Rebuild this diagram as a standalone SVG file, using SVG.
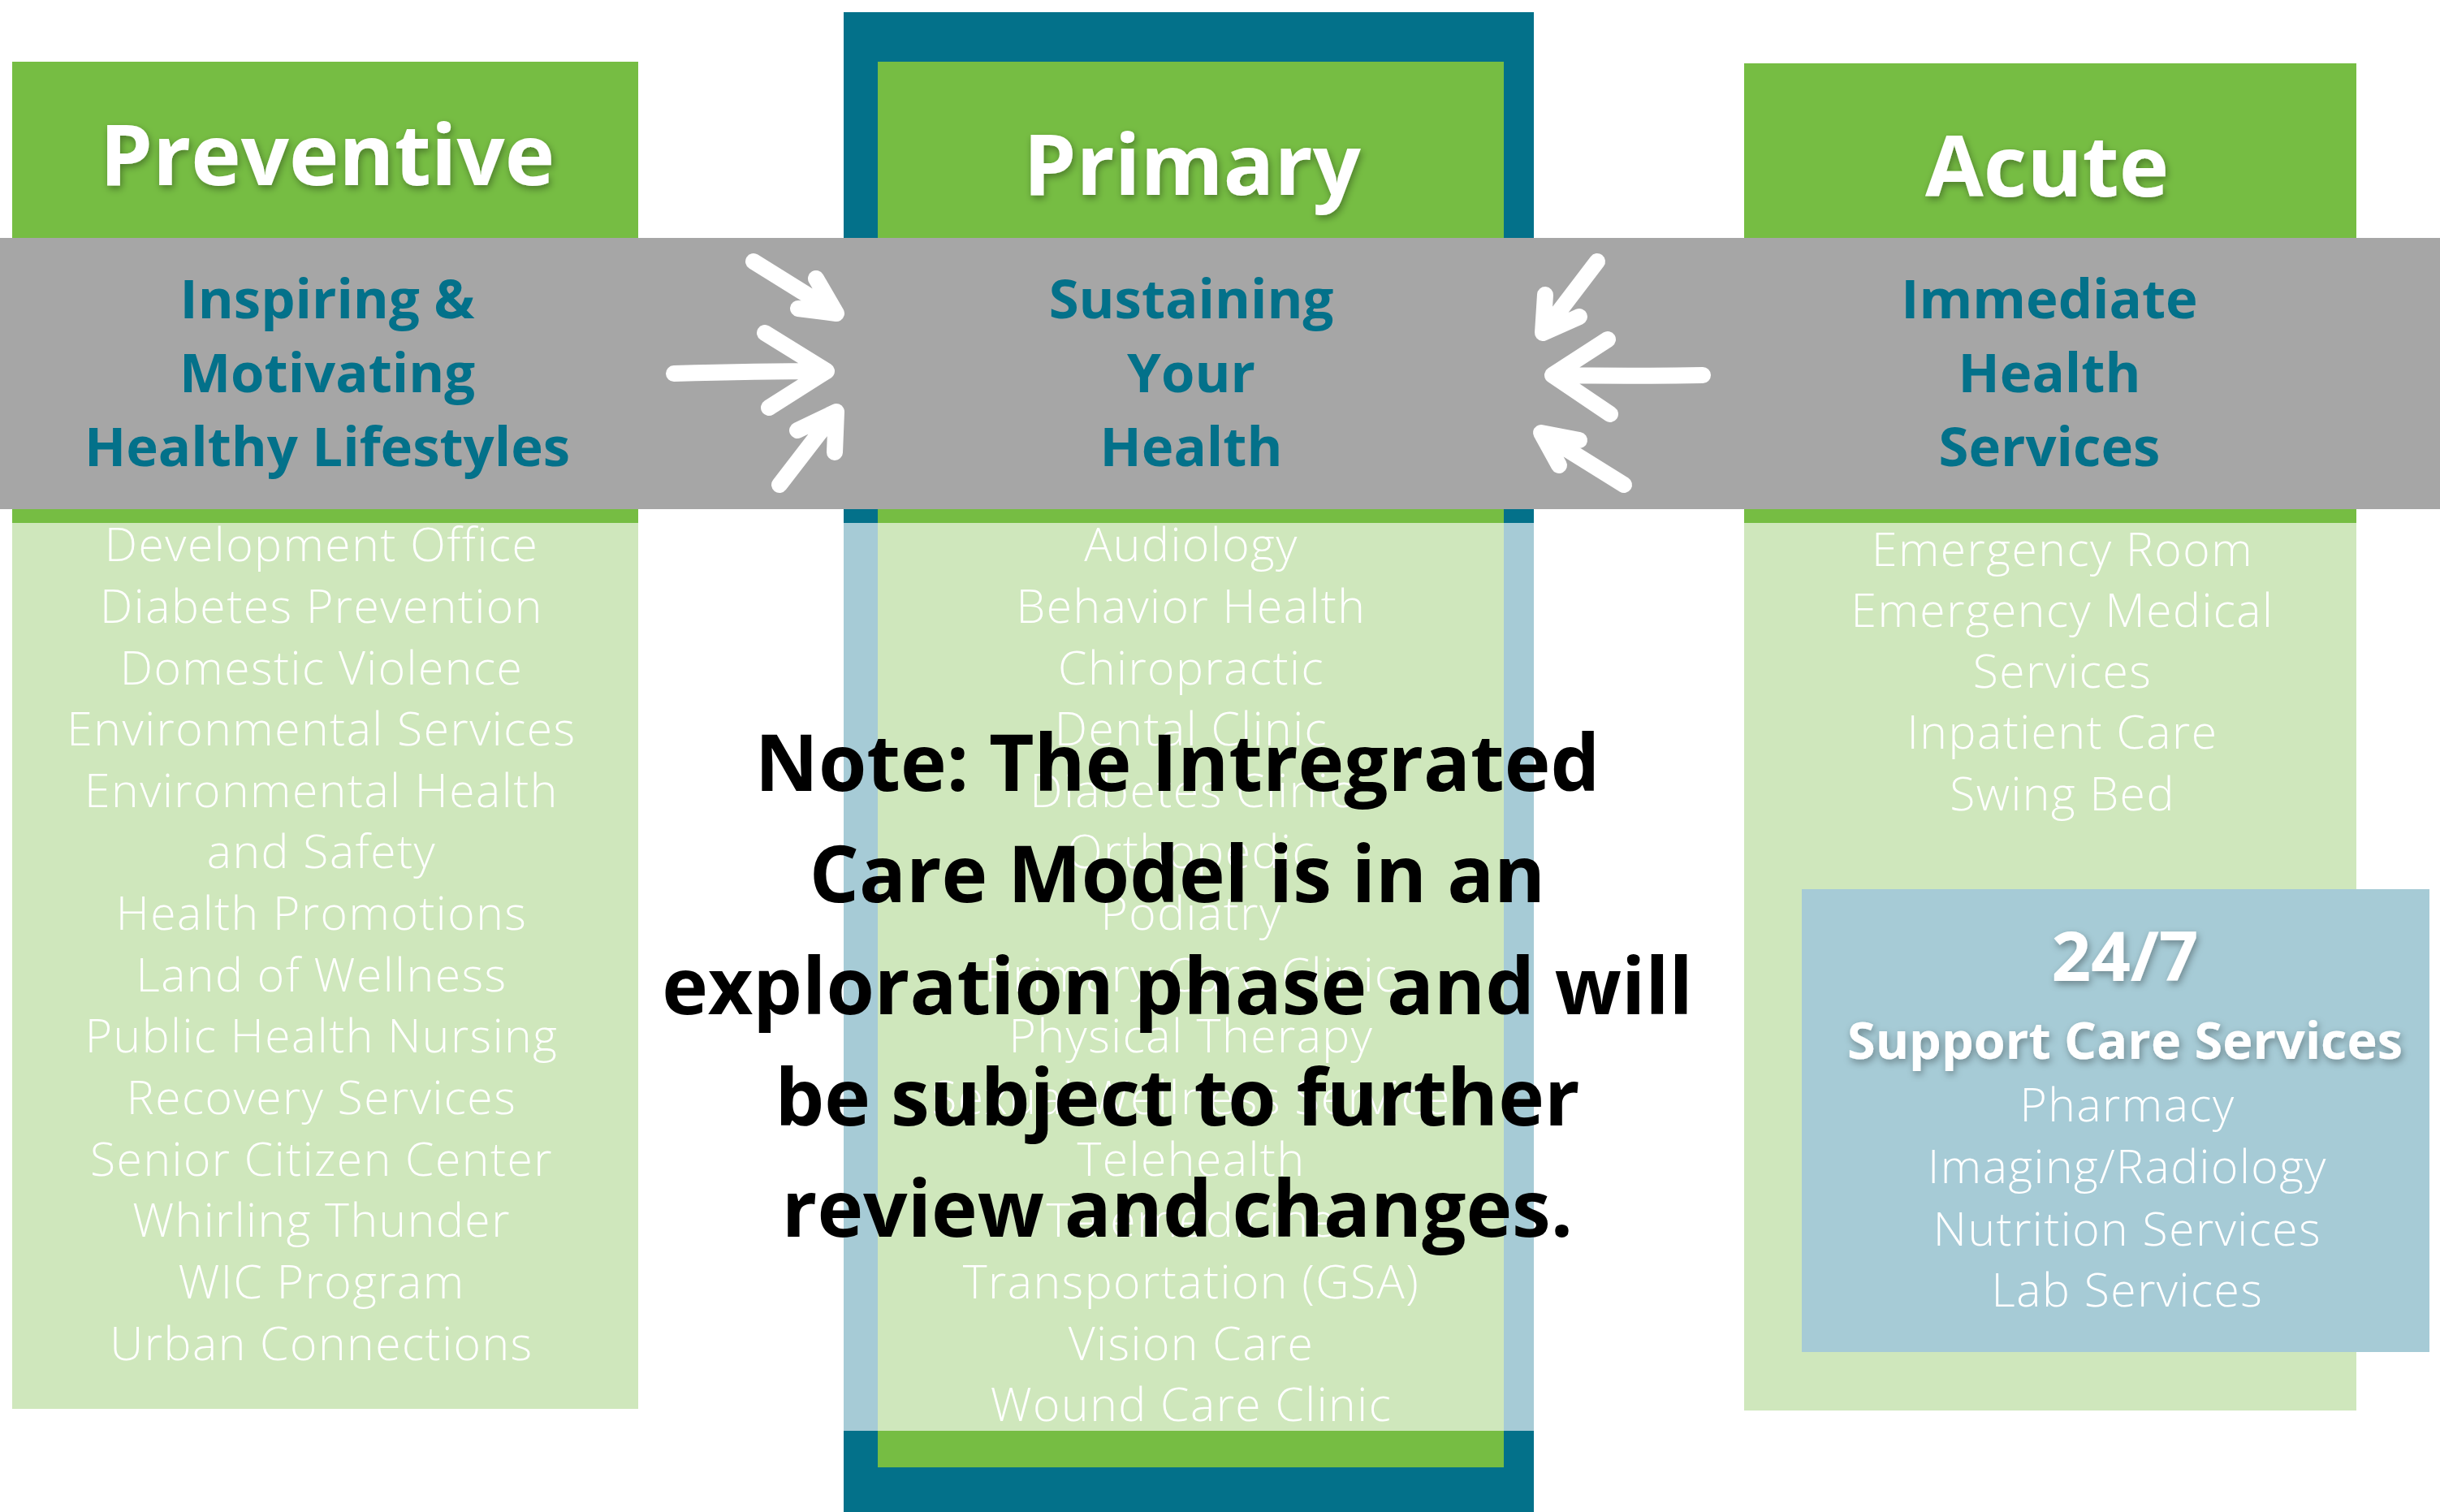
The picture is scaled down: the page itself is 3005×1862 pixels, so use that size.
<svg xmlns="http://www.w3.org/2000/svg" width="3005" height="1862" viewBox="0 0 3005 1862">
<defs>
<style>
.green{fill:#76bd43}
.teal{fill:#03718a}
.lgreen{fill:#cfe7bc}
.lblue{fill:#a6cbd6}
.gray{fill:#a6a6a6}
.title{font-family:"Open Sans","Liberation Sans",sans-serif;font-weight:700;font-size:104px;fill:#ffffff;text-anchor:middle}
.sub{font-family:"Open Sans","Liberation Sans",sans-serif;font-weight:700;font-size:67px;fill:#03718a;text-anchor:middle}
.item{font-family:"Open Sans","Liberation Sans",sans-serif;font-weight:300;font-size:57px;letter-spacing:1.5px;fill:#ffffff;text-anchor:middle}
.h247{font-family:"Open Sans","Liberation Sans",sans-serif;font-weight:700;fill:#ffffff;text-anchor:middle}
.note{font-family:"Open Sans","Liberation Sans",sans-serif;font-weight:700;font-size:96px;fill:#000000;text-anchor:middle}
.arrow{fill:none;stroke:#ffffff;stroke-width:20;stroke-linecap:round;stroke-linejoin:round}
</style>
<filter id="sh" x="-10%" y="-30%" width="120%" height="160%">
<feDropShadow dx="2" dy="4" stdDeviation="5" flood-color="#000000" flood-opacity="0.35"/>
</filter>
</defs>
<rect width="3005" height="1862" fill="#ffffff"/>

<g id="preventive">
<rect class="green" x="15" y="76" width="771" height="568"/>
<rect class="lgreen" x="15" y="644" width="771" height="1091"/>
</g>

<g id="primary">
<rect class="teal" x="1039" y="15" width="850" height="1847"/>
<rect class="green" x="1081" y="76" width="771" height="1731"/>
<rect class="lblue" x="1039" y="644" width="850" height="1118"/>
<rect class="lgreen" x="1081" y="644" width="771" height="1118"/>
</g>

<g id="acute">
<rect class="green" x="2148" y="78" width="754" height="566"/>
<rect class="lgreen" x="2148" y="644" width="754" height="1093"/>
</g>

<g id="band">
<rect class="gray" x="0" y="293" width="3005" height="334"/>
</g>

<g id="titles" filter="url(#sh)">
<text class="title" x="403" y="228">Preventive</text>
<text class="title" x="1468" y="240">Primary</text>
<text class="title" x="2521" y="242">Acute</text>
</g>

<g id="subtitles">
<text class="sub" x="403" y="392">Inspiring &amp;</text>
<text class="sub" x="403" y="483">Motivating</text>
<text class="sub" x="403" y="574">Healthy Lifestyles</text>
<text class="sub" x="1467" y="392">Sustaining</text>
<text class="sub" x="1467" y="483">Your</text>
<text class="sub" x="1467" y="574">Health</text>
<text class="sub" x="2524" y="392">Immediate</text>
<text class="sub" x="2524" y="483">Health</text>
<text class="sub" x="2524" y="574">Services</text>
</g>

<g id="preventive-list">
<text class="item" x="396" y="691">Development Office</text>
<text class="item" x="396" y="767">Diabetes Prevention</text>
<text class="item" x="396" y="843">Domestic Violence</text>
<text class="item" x="396" y="918">Environmental Services</text>
<text class="item" x="396" y="994">Environmental Health</text>
<text class="item" x="396" y="1069">and Safety</text>
<text class="item" x="396" y="1145">Health Promotions</text>
<text class="item" x="396" y="1221">Land of Wellness</text>
<text class="item" x="396" y="1296">Public Health Nursing</text>
<text class="item" x="396" y="1372">Recovery Services</text>
<text class="item" x="396" y="1448">Senior Citizen Center</text>
<text class="item" x="396" y="1523">Whirling Thunder</text>
<text class="item" x="396" y="1599">WIC Program</text>
<text class="item" x="396" y="1675">Urban Connections</text>
</g>

<g id="primary-list">
<text class="item" x="1467" y="691">Audiology</text>
<text class="item" x="1467" y="767">Behavior Health</text>
<text class="item" x="1467" y="843">Chiropractic</text>
<text class="item" x="1467" y="918">Dental Clinic</text>
<text class="item" x="1467" y="994">Diabetes Clinic</text>
<text class="item" x="1467" y="1069">Orthopedic</text>
<text class="item" x="1467" y="1145">Podiatry</text>
<text class="item" x="1467" y="1221">Primary Care Clinic</text>
<text class="item" x="1467" y="1296">Physical Therapy</text>
<text class="item" x="1467" y="1372">Sexual Wellness Service</text>
<text class="item" x="1467" y="1448">Telehealth</text>
<text class="item" x="1467" y="1523">Telemedicine</text>
<text class="item" x="1467" y="1599">Transportation (GSA)</text>
<text class="item" x="1467" y="1675">Vision Care</text>
<text class="item" x="1467" y="1750">Wound Care Clinic</text>
</g>

<g id="acute-list">
<text class="item" x="2540" y="697">Emergency Room</text>
<text class="item" x="2540" y="772">Emergency Medical</text>
<text class="item" x="2540" y="847">Services</text>
<text class="item" x="2540" y="922">Inpatient Care</text>
<text class="item" x="2540" y="998">Swing Bed</text>
</g>

<g id="support">
<rect class="lblue" x="2219" y="1095" width="773" height="570"/>
<g filter="url(#sh)">
<text class="h247" x="2617" y="1208" font-size="85">24/7</text>
<text class="h247" x="2617" y="1304" font-size="63">Support Care Services</text>
</g>
<text class="item" x="2620" y="1381">Pharmacy</text>
<text class="item" x="2620" y="1457">Imaging/Radiology</text>
<text class="item" x="2620" y="1534">Nutrition Services</text>
<text class="item" x="2620" y="1609">Lab Services</text>
</g>

<g id="connectors">
<path class="arrow" d="M928 322 L1026 383 M1005 343 L1030 386 L983 380"/>
<path class="arrow" d="M830 460 C900 458 960 457 1016 457 M942 410 L1018 457 L947 502"/>
<path class="arrow" d="M960 597 L1027 510 M982 530 L1030 507 L1028 557"/>
<path class="arrow" d="M1967 322 L1903 406 M1903 363 L1900 410 L1945 390"/>
<path class="arrow" d="M2097 462 C2040 463 1970 463 1914 462 M1980 418 L1912 462 L1983 510"/>
<path class="arrow" d="M2000 597 L1902 536 M1945 542 L1898 533 L1920 573"/>
</g>

<g id="note">
<text class="note" x="1450" y="974">Note: The Intregrated</text>
<text class="note" x="1450" y="1111">Care Model is in an</text>
<text class="note" x="1450" y="1249">exploration phase and will</text>
<text class="note" x="1450" y="1386">be subject to further</text>
<text class="note" x="1450" y="1523">review and changes.</text>
</g>
</svg>
